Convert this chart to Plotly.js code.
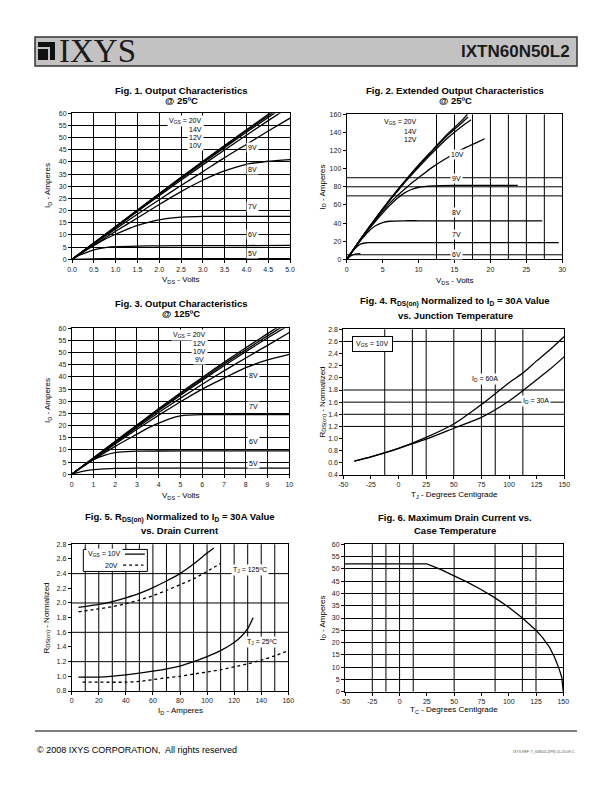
<!DOCTYPE html>
<html><head><meta charset="utf-8">
<script src="https://cdn.plot.ly/plotly-3.0.1.min.js"></script>
<style>html,body{margin:0;padding:0;background:#fff}#chart{width:612px;height:792px}</style>
</head><body><div id="chart"></div>
<script>
// ---------------- DATA ----------------
// Fig 1: Output characteristics @25C (VDS volts, ID amps)
const f1_vdsBundle = [0,1,2,3,4,4.5,4.8];
const f1_id20 = [0,13.5,27,40.3,53.2,59.6,63.4];
const f1_id14 = [0,13.4,26.8,40,52.8,59,62.7];
const f1_id12 = [0,13.3,26.5,39.6,52.2,58.3,62];
const f1_id10 = [0,13.1,26.1,38.8,51,57,60.5];
const f1_vds = [0,0.5,1,1.5,2,2.5,3,3.5,4,4.5,5];
const f1_id9 = [0,6.3,12.5,18.5,24.5,30.3,36,41.8,47.2,52.7,58];
const f1_id8 = [0,5.8,11.5,17,22.5,27.8,32.5,36.3,39,40.3,41];
const f1_vds7 = [0,0.25,0.5,0.75,1,1.25,1.5,1.75,2,2.25,2.5,3,4,5];
const f1_id7 = [0,3,5.7,8.2,10.3,12.2,13.9,15.2,16.2,16.9,17.3,17.6,17.6,17.6];
const f1_vds6 = [0,0.2,0.4,0.6,0.8,1,1.5,2,3,4,5];
const f1_id6 = [0,1.9,3.3,4.3,4.9,5.2,5.45,5.55,5.6,5.65,5.7];
const f1_vds5 = [0,0.5,1,2,5];
const f1_id5 = [0,0.2,0.25,0.3,0.3];
const f1_labels = ["V<sub>GS</sub> = 20V","14V","12V","10V","9V","8V","7V","6V","5V"];

// Fig 2: Extended output characteristics @25C
const f2_vdsTop = [0,2,4,6,7,8,10,12,14,16,16.8];
const f2_id20 = [0,23,45,66,76,85.5,104,121,138,153,160];
const f2_vds14 = [0,2,4,6,7,8,10,12,14,16,16.9];
const f2_id14 = [0,23,45,65.5,75.5,85,103,120,136.5,150.5,157];
const f2_vds12 = [0,2,4,6,7,8,10,12,14,16,17.3];
const f2_id12 = [0,22.8,44.5,65,74.5,84,101.5,118,133.5,146.5,154];
const f2_vds10 = [0,2,4,6,7,8,9,10,12,14,16,18,19.2];
const f2_id10 = [0,22.5,43.5,62,70,77,84,90,102,112,121,128.5,133];
const f2_vds9 = [0,1,2,3,4,5,6,7,8,9,10,12,15,20,23.8];
const f2_id9 = [0,11,22,32.5,42,51,59.5,67,73,77,79.5,81,81.5,81.5,81.5];
const f2_vds8 = [0,1,2,3,4,5,6,8,10,20,27.2];
const f2_id8 = [0,11,21.5,30.5,37,40.5,42,42.5,42.5,42.5,42.5];
const f2_vds7 = [0,0.5,1,1.5,2,2.5,3,5,29.5];
const f2_id7 = [0,5.5,10.5,14.5,17,18,18.3,18.3,18.3];
const f2_vds6 = [0,0.5,1,1.5,1.9];
const f2_id6 = [0,3.5,5.3,6,6.2];
const f2_labels = ["V<sub>GS</sub> = 20V","14V","12V","10V","9V","8V","7V","6V"];

// Fig 3: Output characteristics @125C
const f3_vds = [0,1,2,3,4,5,6,7,8,9,10];
const f3_id20 = [0,6.8,13.6,20.3,27,33.5,39.8,46,52,57.8,63.5];
const f3_id12 = [0,6.7,13.4,20,26.6,33,39.2,45.3,51.2,56.9,62.5];
const f3_id10 = [0,6.6,13.2,19.7,26.2,32.5,38.6,44.6,50.4,56,61.4];
const f3_id9 = [0,6.5,13,19.2,25.4,31.3,37,42.5,47.8,53,58.3];
const f3_id8 = [0,6.3,12.5,18.5,24.3,29.8,35,39.5,43.8,47,49.3];
const f3_vds7 = [0,1,2,3,3.5,4,4.5,5,6,8,10];
const f3_id7 = [0,6,11.5,16.5,19,21,22.8,24,24.5,24.5,24.5];
const f3_vds6 = [0,0.5,1,1.5,2,2.5,3,5,10];
const f3_id6 = [0,3.3,6,7.8,8.9,9.3,9.5,9.6,9.6];
const f3_vds5 = [0,0.5,1,1.5,2,3,5,10];
const f3_id5 = [0,1.2,1.9,2.2,2.4,2.5,2.5,2.5];
const f3_labels = ["V<sub>GS</sub> = 20V","12V","10V","9V","8V","7V","6V","5V"];

// Fig 4: RDS(on) normalized vs junction temperature
const f4_tj = [-40,-25,0,25,50,75,100,112.5,125,137.5,150];
const f4_r60 = [0.63,0.7,0.84,1.02,1.24,1.56,1.92,2.08,2.28,2.47,2.68];
const f4_r30 = [0.63,0.7,0.84,0.99,1.17,1.35,1.62,1.79,1.97,2.15,2.35];
const f4_labels = ["I<sub>D</sub> = 60A","I<sub>D</sub> = 30A","V<sub>GS</sub> = 10V"];

// Fig 5: RDS(on) normalized vs drain current
const f5_id125a = [5,20,30,40,50,60,70,80,90,100,105];
const f5_r125_10 = [1.94,1.98,2.02,2.07,2.13,2.21,2.3,2.4,2.53,2.68,2.75];
const f5_id125b = [5,20,30,40,50,60,70,80,90,100,110];
const f5_r125_20 = [1.88,1.92,1.95,1.99,2.04,2.1,2.17,2.25,2.33,2.43,2.54];
const f5_id25a = [5,20,40,60,80,90,100,110,120,125,130,134];
const f5_r25_10 = [0.99,0.99,1.02,1.07,1.14,1.2,1.27,1.35,1.46,1.54,1.65,1.8];
const f5_id25b = [8,20,40,50,60,70,80,90,100,110,120,130,140,150,160];
const f5_r25_20 = [0.92,0.92,0.92,0.93,0.955,0.98,1.0,1.03,1.06,1.09,1.13,1.17,1.22,1.28,1.35];
const f5_labels = ["V<sub>GS</sub> = 10V","20V","T<sub>J</sub> = 125ºC","T<sub>J</sub> = 25ºC"];

// Fig 6: Maximum drain current vs case temperature
const f6_tc = [-50,25,37.5,50,62.5,75,87.5,100,112.5,125,131,137.5,142,146,148.5,150];
const f6_id = [52,52,49.8,47.3,44.5,41.5,38.2,34.4,30,25,22,18,14,9.5,6,0];

// Temperature axis tick labels (plain hyphen minus, as in the original)
const tempTickVals = [-50,-25,0,25,50,75,100,125,150];
const tempTickText = ['-50','-25','0','25','50','75','100','125','150'];

// Irregular grid lines of the original figures
const f2_gridX = [12.5,15,17.5,20,22.5,25,27.5];
const f2_gridY = [5,70,80,90];
const f4_gridX = [-12.5,12.5,25,50,75,87.5,112.5];
const f4_gridY = [1.2,1.4,1.6,1.8,2.6];
const f5_gridX = [10,20,30,40,50,60,70,80,90,100,110,120,130,140,150];
const f5_gridY = [1.2,1.6,2.0,2.4];
const f6_gridX = [-25,-12.5,0,12.5,50,87.5,112.5,125];

// ---------------- LAYOUT HELPERS ----------------
const W=612,H=792;
const px=v=>v/W, py=v=>1-v/H;
const FONT='Liberation Sans, Arial, sans-serif';
const boxes={1:[72,290,113.3,259.3],2:[346.7,562.3,114.3,259.3],3:[71.7,289.3,328.3,474.3],
             4:[343.3,564.3,329.3,475],5:[71.7,288.3,544.3,691],6:[345,563.3,544.3,691.7]};
function xa(i){return i===1?'x':'x'+i;} function ya(i){return i===1?'y':'y'+i;}
function axis(i,dir,range,dtick,grid,fmt){
  const b=boxes[i];
  const o={range:range,dtick:dtick,tick0:range[0],showline:true,mirror:true,linecolor:'#000',linewidth:1,
    ticks:'outside',ticklen:3,tickcolor:'#000',tickwidth:1,
    tickfont:{family:FONT,size:7,color:'#222'},showgrid:grid,gridcolor:'#000',gridwidth:1,
    zeroline:false,fixedrange:true,anchor:dir==='x'?ya(i):xa(i)};
  if(fmt)o.tickformat=fmt;
  if(dir==='x')o.domain=[px(b[0]),px(b[1])]; else o.domain=[py(b[3]),py(b[2])];
  return o;
}
function tempAxis(i){const o=axis(i,'x',[-50,150],25,false);o.tickmode='array';o.tickvals=tempTickVals;o.ticktext=tempTickText;return o;}
const traces=[];
function ln(i,x,y,dash,w){traces.push({type:'scatter',mode:'lines',x:x,y:y,xaxis:xa(i),yaxis:ya(i),
  line:{color:'#000',width:w||1.3,dash:dash||'solid',shape:'spline',smoothing:0.6},hoverinfo:'skip',showlegend:false});}
function lnLin(i,x,y){traces.push({type:'scatter',mode:'lines',x:x,y:y,xaxis:xa(i),yaxis:ya(i),
  line:{color:'#000',width:1.3},hoverinfo:'skip',showlegend:false});}

ln(1,f1_vdsBundle,f1_id20);ln(1,f1_vdsBundle,f1_id14);ln(1,f1_vdsBundle,f1_id12);ln(1,f1_vdsBundle,f1_id10);
ln(1,f1_vds,f1_id9);ln(1,f1_vds,f1_id8);ln(1,f1_vds7,f1_id7);ln(1,f1_vds6,f1_id6);ln(1,f1_vds5,f1_id5);
ln(2,f2_vdsTop,f2_id20);ln(2,f2_vds14,f2_id14);ln(2,f2_vds12,f2_id12);ln(2,f2_vds10,f2_id10);
ln(2,f2_vds9,f2_id9);ln(2,f2_vds8,f2_id8);ln(2,f2_vds7,f2_id7);ln(2,f2_vds6,f2_id6);
ln(3,f3_vds,f3_id20);ln(3,f3_vds,f3_id12);ln(3,f3_vds,f3_id10);ln(3,f3_vds,f3_id9);ln(3,f3_vds,f3_id8);
ln(3,f3_vds7,f3_id7);ln(3,f3_vds6,f3_id6);ln(3,f3_vds5,f3_id5);
ln(4,f4_tj,f4_r60);ln(4,f4_tj,f4_r30);
ln(5,f5_id125a,f5_r125_10);ln(5,f5_id125b,f5_r125_20,'3px,3px');
ln(5,f5_id25a,f5_r25_10);ln(5,f5_id25b,f5_r25_20,'3px,3px');
lnLin(6,f6_tc,f6_id);

const shapes=[];
function gx(i,arr){arr.forEach(v=>shapes.push({type:'line',xref:xa(i),yref:ya(i)+' domain',x0:v,x1:v,y0:0,y1:1,line:{color:'#000',width:1},layer:'below'}));}
function gy(i,arr){arr.forEach(v=>shapes.push({type:'line',xref:xa(i)+' domain',yref:ya(i),x0:0,x1:1,y0:v,y1:v,line:{color:'#000',width:1},layer:'below'}));}
gx(2,f2_gridX);gy(2,f2_gridY);gx(4,f4_gridX);gy(4,f4_gridY);gx(5,f5_gridX);gy(5,f5_gridY);gx(6,f6_gridX);

// header
shapes.push({type:'rect',xref:'paper',yref:'paper',x0:px(35),x1:px(577),y0:py(66),y1:py(37),fillcolor:'#c2c2c2',line:{color:'#333',width:1.5}});
shapes.push({type:'rect',xref:'paper',yref:'paper',x0:px(38),x1:px(55),y0:py(60),y1:py(42),fillcolor:'#111',line:{width:0}});
shapes.push({type:'rect',xref:'paper',yref:'paper',x0:px(38),x1:px(50),y0:py(49),y1:py(47),fillcolor:'#c2c2c2',line:{width:0}});
shapes.push({type:'rect',xref:'paper',yref:'paper',x0:px(48),x1:px(50),y0:py(60),y1:py(47),fillcolor:'#c2c2c2',line:{width:0}});
// footer
shapes.push({type:'line',xref:'paper',yref:'paper',x0:px(35),x1:px(577),y0:py(731),y1:py(731),line:{color:'#000',width:1}});
// fig5 legend box
shapes.push({type:'rect',xref:'x5',yref:'y5',x0:8.6,x1:55.9,y0:2.43,y1:2.73,fillcolor:'#fff',line:{color:'#000',width:1},layer:'above'});
shapes.push({type:'line',xref:'x5',yref:'y5',x0:39.4,x1:54,y0:2.665,y1:2.665,line:{color:'#000',width:1.3},layer:'above'});
shapes.push({type:'line',xref:'x5',yref:'y5',x0:38,x1:53,y0:2.515,y1:2.515,line:{color:'#000',width:1.3,dash:'3px,3px'},layer:'above'});

const ann=[];
function T(x,y,text,size,opt){ann.push(Object.assign({xref:'paper',yref:'paper',x:px(x),y:py(y),text:text,showarrow:false,
  font:{family:FONT,size:size,color:'#000'},xanchor:'center',yanchor:'middle'},opt||{}));}
function L(i,x,y,text,xan){ann.push({xref:xa(i),yref:ya(i),x:x,y:y,text:text,showarrow:false,xanchor:xan||'center',yanchor:'middle',
  font:{family:FONT,size:7,color:'#000'},bgcolor:'#fff',borderpad:1});}

// header texts
T(57,51,'IXYS',33,{xanchor:'left',font:{family:'Liberation Serif, Times New Roman, serif',size:33,color:'#1a1a1a'}});
T(572,52,'<b>IXTN60N50L2</b>',17,{xanchor:'right',font:{family:FONT,size:17,color:'#1a1a1a'}});
T(35,750,'© 2008 IXYS CORPORATION,  All rights reserved',9,{xanchor:'left'});
T(577,752,'IXYS REF: T_60N50L2(P8) 01-20-09-C',3.5,{xanchor:'right',font:{family:FONT,size:3.5,color:'#555'}});

// titles
const TS=9.5;
T(181,90,'<b>Fig. 1. Output Characteristics</b>',TS);T(181,101,'<b>@ 25ºC</b>',TS);
T(455,90,'<b>Fig. 2. Extended Output Characteristics</b>',TS);T(455,101,'<b>@ 25ºC</b>',TS);
T(181,303,'<b>Fig. 3. Output Characteristics</b>',TS);T(181,314,'<b>@ 125ºC</b>',TS);
T(455,302,'<b>Fig. 4. R<sub>DS(on)</sub> Normalized to I<sub>D</sub> = 30A Value</b>',TS);T(455,315,'<b>vs. Junction Temperature</b>',TS);
T(180,517,'<b>Fig. 5. R<sub>DS(on)</sub> Normalized to I<sub>D</sub> = 30A Value</b>',TS);T(180,530,'<b>vs. Drain Current</b>',TS);
T(455,517,'<b>Fig. 6. Maximum Drain Current vs.</b>',TS);T(455,530,'<b>Case Temperature</b>',TS);

// axis titles
T(181,280,'V<sub>DS</sub> - Volts',8);T(48,186,'I<sub>D</sub> - Amperes',8,{textangle:-90});
T(455,281,'V<sub>DS</sub> - Volts',8);T(322.5,187,'I<sub>D</sub> - Amperes',8,{textangle:-90});
T(181,496,'V<sub>DS</sub> - Volts',8);T(48,401,'I<sub>D</sub> - Amperes',8,{textangle:-90});
T(454,495,'T<sub>J</sub> - Degrees Centigrade',8);T(322.5,402,'R<sub>DS(on)</sub> - Normalized',8,{textangle:-90});
T(180,711,'I<sub>D</sub> - Amperes',8);T(46.5,618,'R<sub>DS(on)</sub> - Normalized',8,{textangle:-90});
T(454,710,'T<sub>C</sub> - Degrees Centigrade',8);T(322.5,618,'I<sub>D</sub> - Amperes',8,{textangle:-90});

// curve labels
L(1,3.02,56.8,f1_labels[0],'right');L(1,3.02,53.5,f1_labels[1],'right');L(1,3.02,50.2,f1_labels[2],'right');L(1,3.02,46.9,f1_labels[3],'right');
L(1,4.15,46,f1_labels[4]);L(1,4.15,36.8,f1_labels[5]);L(1,4.15,21.9,f1_labels[6]);L(1,4.15,10,f1_labels[7]);L(1,4.15,2.3,f1_labels[8]);
L(2,10,151.4,f2_labels[0],'right');L(2,10,141.5,f2_labels[1],'right');L(2,10,132.7,f2_labels[2],'right');
L(2,15.4,116,f2_labels[3]);L(2,15.3,89.5,f2_labels[4]);L(2,15.3,51.5,f2_labels[5]);L(2,15.3,27,f2_labels[6]);L(2,15.3,5,f2_labels[7]);
L(3,6.28,57.2,f3_labels[0],'right');L(3,6.28,53.9,f3_labels[1],'right');L(3,6.28,50.6,f3_labels[2],'right');L(3,6.18,47.3,f3_labels[3],'right');
L(3,8.35,40.8,f3_labels[4]);L(3,8.35,27.8,f3_labels[5]);L(3,8.35,13.4,f3_labels[6]);L(3,8.35,4.5,f3_labels[7]);
L(4,78,1.98,f4_labels[0]);L(4,124.8,1.62,f4_labels[1]);
ann.push({xref:'x4',yref:'y4',x:-23.5,y:2.565,text:f4_labels[2],showarrow:false,font:{family:FONT,size:7,color:'#000'},
  bgcolor:'#fff',bordercolor:'#000',borderwidth:1,borderpad:3});
L(5,38,2.665,f5_labels[0],'right');L(5,35.7,2.515,f5_labels[1],'right');
L(5,132,2.45,f5_labels[2]);L(5,140.8,1.47,f5_labels[3]);

const layout={width:W,height:H,margin:{l:0,r:0,t:0,b:0},paper_bgcolor:'#fff',plot_bgcolor:'#fff',showlegend:false,
  shapes:shapes,annotations:ann,
  xaxis:axis(1,'x',[0,5],0.5,true,'.1f'),yaxis:axis(1,'y',[0,60],5,true),
  xaxis2:axis(2,'x',[0,30],5,false),yaxis2:axis(2,'y',[0,160],20,false),
  xaxis3:axis(3,'x',[0,10],1,true),yaxis3:axis(3,'y',[0,60],5,true),
  xaxis4:tempAxis(4),yaxis4:axis(4,'y',[0.4,2.8],0.2,false,'.1f'),
  xaxis5:axis(5,'x',[0,160],20,false),yaxis5:axis(5,'y',[0.8,2.8],0.2,false,'.1f'),
  xaxis6:tempAxis(6),yaxis6:axis(6,'y',[0,60],5,true)};
Plotly.newPlot('chart',traces,layout,{staticPlot:true,displayModeBar:false});
</script></body></html>
